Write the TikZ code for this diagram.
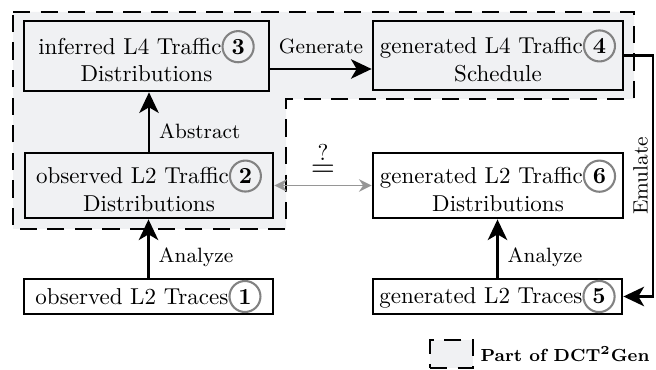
\documentclass[tikz,border=0pt]{standalone}
\usetikzlibrary{arrows.meta}
\definecolor{regionfill}{RGB}{240,241,243}
\definecolor{circgray}{RGB}{130,130,130}
\definecolor{arrgray}{RGB}{150,150,150}
\newcommand\cnum[1]{\tikz[baseline=(cn.base)]\node[circle,draw=circgray,line width=0.9pt,inner sep=1.7pt,fill=none,minimum width=0pt,minimum height=0pt,font=\bfseries,anchor=center](cn){#1};}
\tikzset{
  box/.style={draw, line width=1.2pt, rectangle, align=center, inner sep=0pt},
  filled/.style={box, fill=regionfill},
  conn/.style={line width=0.9pt, -{Stealth[length=9pt,width=8.5pt,inset=2.5pt]}},
  grayconn/.style={line width=0.8pt, draw=arrgray, {Stealth[length=5.5pt,width=5.5pt]}-{Stealth[length=5.5pt,width=5.5pt]}},
  lbl/.style={font=\small, inner sep=2pt},
  region/.style={fill=regionfill, line width=1.2pt, dash pattern=on 7.5pt off 4.5pt},
}
\begin{document}
\begin{tikzpicture}[x=0.4348pt,y=-0.4348pt]
\useasboundingbox (0,0) rectangle (656,370);
\draw[region] (13,12) -- (634,12) -- (634,99) -- (286,99) -- (286,229) -- (13,229) -- cycle;

\node[filled, minimum width=106.5pt, minimum height=30.4pt] (n3) at (146.5,56) {inferred L4 Traffic\cnum{3}\\Distributions};
\node[filled, minimum width=108.7pt, minimum height=30pt] (n4) at (498,55.5) {generated L4 Traffic\cnum{4}\\Schedule};
\node[filled, minimum width=107.8pt, minimum height=28.3pt] (n2) at (149,185.5) {observed L2 Traffic\cnum{2}\\Distributions};
\node[box, fill=white, minimum width=108.7pt, minimum height=28.3pt] (n6) at (498,185.5) {generated L2 Traffic\cnum{6}\\Distributions};
\node[box, fill=white, minimum width=108.3pt, minimum height=15.2pt] (n1) at (148.5,296.5) {observed L2 Traces\cnum{1}};
\node[box, fill=white, minimum width=108.3pt, minimum height=15.2pt] (n5) at (497.5,296.5) {generated L2 Traces\cnum{5}};

\draw[conn] ([yshift=-5.65pt]n3.east) -- node[lbl, above=4pt]{Generate} ([yshift=-5.65pt]n3.east -| n4.west);
\draw[conn] (n2.north) -- node[lbl, right=2pt, pos=0.35]{Abstract} (n2.north |- n3.south);
\draw[conn] (n1.north) -- node[lbl, right=2pt, pos=0.35]{Analyze} (n1.north |- n2.south);
\draw[conn] (n5.north) -- node[lbl, right=2pt, pos=0.35]{Analyze} (n5.north |- n6.south);
\draw[grayconn] (n2.east) -- node[inner sep=0pt, above=3.6pt] (eq) {\scalebox{1.35}{$=$}} (n6.west);
\node[inner sep=0pt, anchor=south, yshift=1.3pt] (qm) at (eq.north) {?};
\draw[conn] (n4.east) -- ++(29,0) |- node[lbl, pos=0.25, rotate=90, anchor=south]{Emulate} (n5.east);

\node[region, draw, minimum width=18.7pt, minimum height=12.2pt, inner sep=0pt] (lg) at (451.5,354) {};
\node[anchor=west, font=\fontsize{7.6}{9}\selectfont\bfseries, inner sep=2.5pt] (lgt) at (lg.east) {Part of DCT\textsuperscript{2}Gen};
\end{tikzpicture}
\end{document}
